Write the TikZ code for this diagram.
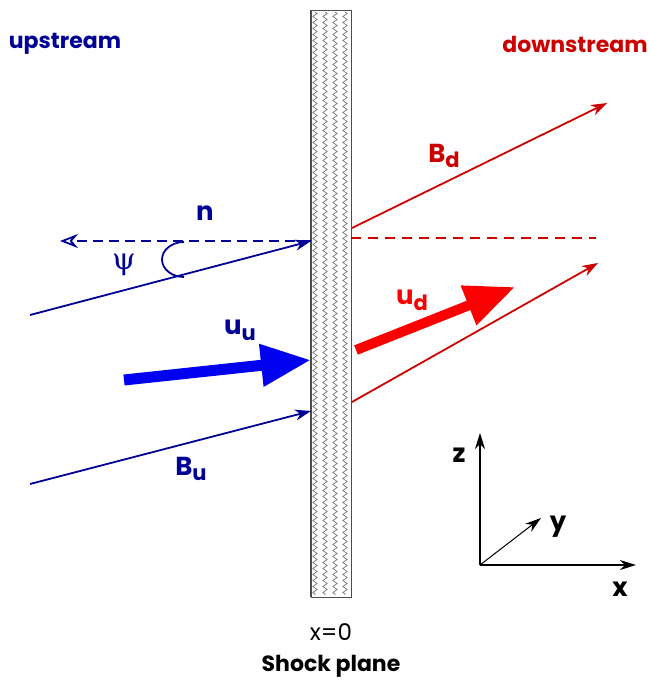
\documentclass[tikz,border=0pt]{standalone}
\usepackage{fontspec}
\setmainfont{Poppins}
\newfontfamily\greekfont{DejaVu Serif}
\usepackage{tikz}
\usetikzlibrary{arrows.meta, positioning, decorations.pathmorphing}

\definecolor{upblue}{RGB}{0,0,150}
\definecolor{flowblue}{RGB}{0,0,240}
\definecolor{downred}{RGB}{205,0,0}
\definecolor{flowred}{RGB}{250,0,0}

\newcommand{\lsub}[1]{\raisebox{-0.4ex}{\fontsize{21}{21}\selectfont #1}}

\tikzset{
  fieldline/.style={line width=1.8pt, -{Stealth[length=16pt, width=11pt, inset=5pt]}},
  flowarrow/.style={line width=11pt, -{Triangle[length=50pt, width=40pt]}},
  axisline/.style={line width=1.2pt, -{Stealth[length=16pt, width=10pt, inset=5pt]}},
  lbl/.style={font=\fontsize{26}{28}\selectfont\bfseries, inner sep=0pt},
  zig/.style={gray!80!black, line width=0.6pt, decorate,
    decoration={zigzag, segment length=6pt, amplitude=2.2pt}}
}

\begin{document}
\begin{tikzpicture}[x=1pt, y=-1pt]
\useasboundingbox (0,0) rectangle (649,683);

% Shock plane
\coordinate (sTL) at (311,10);
\coordinate (sBR) at (351,597);
\foreach \xz in {315,325,335,345}
  \draw[zig] (\xz,12) -- (\xz,595);
\draw[gray!60!black, line width=0.9pt] (sTL) rectangle (sBR);
\draw[gray!60!black, line width=2.2pt] (sTL) -- (311,597);

% Region labels
\node[lbl, text=upblue, font=\fontsize{22}{24}\selectfont\bfseries] (up) at (65,44) {upstream};
\node[lbl, text=downred, font=\fontsize{22}{24}\selectfont\bfseries] (down) at (575,44) {downstream};

% Upstream field lines and normal
\coordinate (nTip) at (60,241);
\coordinate (nFoot) at (311,241);
\coordinate (bTop0) at (30,315);
\coordinate (bBot0) at (30,484);
\coordinate (bBot1) at (311,411);
\draw[upblue, line width=1.8pt, dash pattern=on 10pt off 6pt,
  -{Stealth[open, length=18pt, width=14pt, inset=6pt]}] (nFoot) -- (nTip);
\draw[fieldline, upblue] (bTop0) -- (nFoot);
\draw[fieldline, upblue] (bBot0) -- (bBot1);
\draw[upblue, line width=1.8pt] (184,242) arc[start angle=90, end angle=270, x radius=22pt, y radius=17.5pt];

\node[lbl, text=upblue] (nlab) at (205,213) {n};
\node[inner sep=0pt, text=upblue, font=\greekfont\fontsize{30}{30}\selectfont] (psi) at (124,265) {ψ};
\node[lbl, text=upblue] (BuLab) at (191,469) {B\lsub{u}};

% Upstream flow
\coordinate (uuTail) at (124,380);
\coordinate (uuTip) at (311,360);
\draw[flowarrow, flowblue] (uuTail) -- (uuTip);
\node[lbl, text=upblue] (uuLab) at (240,330) {u\lsub{u}};

% Downstream field lines
\coordinate (bdTop0) at (352,228);
\coordinate (bdTop1) at (607,103);
\coordinate (bdBot0) at (352,402);
\coordinate (bdBot1) at (598,263);
\coordinate (dash0) at (351,238);
\coordinate (dash1) at (596,238);
\draw[fieldline, downred] (bdTop0) -- (bdTop1);
\draw[fieldline, downred] (bdBot0) -- (bdBot1);
\draw[downred, line width=1.6pt, dash pattern=on 10pt off 7pt] (dash0) -- (dash1);
\node[lbl, text=downred] (BdLab) at (444,156) {B\lsub{d}};

% Downstream flow
\coordinate (udTail) at (356,350);
\coordinate (udTip) at (515,287);
\draw[flowarrow, flowred, line width=10pt] (udTail) -- (udTip);
\node[lbl, text=flowred] (udLab) at (412,300) {u\lsub{d}};

% Axes
\coordinate (orig) at (480,565);
\coordinate (zEnd) at (480,433);
\coordinate (xEnd) at (636,565);
\coordinate (yEnd) at (541,518);
\draw[axisline] (orig) -- (zEnd);
\draw[axisline] (orig) -- (xEnd);
\draw[axisline, line width=1pt] (orig) -- (yEnd);
\node[lbl] (zLab) at (459,455) {z};
\node[lbl] (yLab) at (558,527) {y};
\node[lbl] (xLab) at (620,589) {x};

% Bottom captions
\node[inner sep=0pt, font=\fontsize{23}{24}\selectfont] (x0) at (331,632) {x=0};
\node[lbl, font=\fontsize{22}{24}\selectfont\bfseries] (caption) at (331,666) {Shock plane};

\end{tikzpicture}
\end{document}
